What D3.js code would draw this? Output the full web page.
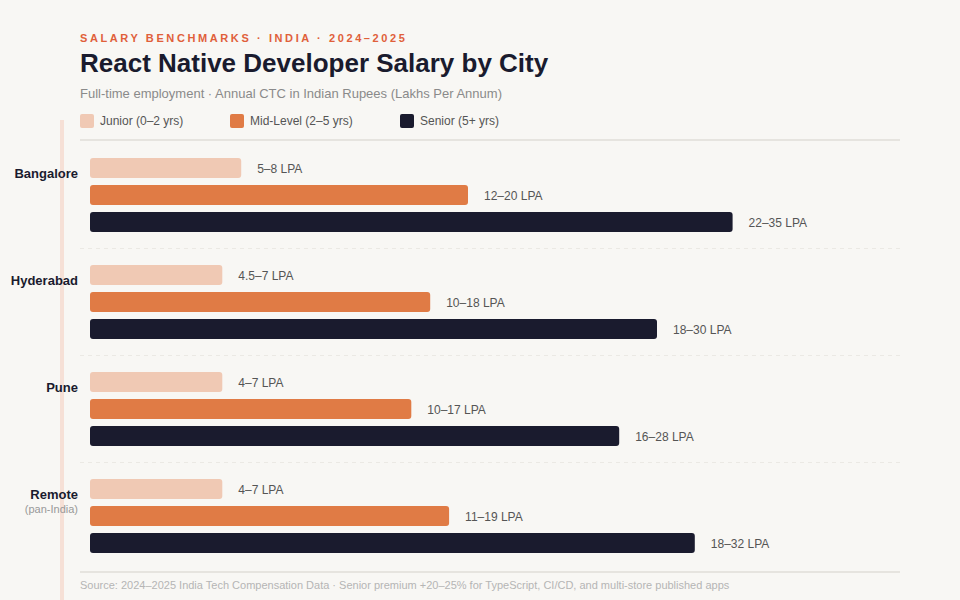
<!DOCTYPE html>
<html>
<head>
<meta charset="utf-8">
<script src="https://cdnjs.cloudflare.com/ajax/libs/d3/7.8.5/d3.min.js"></script>
<style>
  body { margin: 0; background: #f8f7f4; }
  svg { font-family: "Liberation Sans", Arial, sans-serif; display: block; }
</style>
</head>
<body>
<div id="chart"></div>
<script>
// data
var cities = ["Bangalore", "Hyderabad", "Pune", "Remote"];
var citySub = ["", "", "", "(pan-India)"];
var levels = ["Junior (0–2 yrs)", "Mid-Level (2–5 yrs)", "Senior (5+ yrs)"];
var juniorValues = [8, 7, 7, 7];
var midValues = [20, 18, 17, 19];
var seniorValues = [34, 30, 28, 32];
var juniorLabels = ["5–8 LPA", "4.5–7 LPA", "4–7 LPA", "4–7 LPA"];
var midLabels = ["12–20 LPA", "10–18 LPA", "10–17 LPA", "11–19 LPA"];
var seniorLabels = ["22–35 LPA", "18–30 LPA", "16–28 LPA", "18–32 LPA"];

var colors = ["#f0c9b4", "#e07b45", "#1a1b2e"];
var W = 960, H = 600;

var svg = d3.select("#chart").append("svg")
  .attr("width", W).attr("height", H);

svg.append("rect").attr("width", W).attr("height", H).attr("fill", "#f8f7f4");

// pale accent rule on the left
svg.append("rect")
  .attr("x", 60).attr("y", 120).attr("width", 4).attr("height", H - 120)
  .attr("fill", "#f6e0d6");

// header
svg.append("text")
  .attr("x", 80).attr("y", 42)
  .style("font-size", "11px").style("font-weight", "bold")
  .style("letter-spacing", "2.6px")
  .attr("fill", "#e0603a")
  .text("SALARY BENCHMARKS · INDIA · 2024–2025");

svg.append("text")
  .attr("x", 80).attr("y", 72)
  .style("font-size", "26px").style("font-weight", "bold")
  .attr("fill", "#1a1b2e")
  .text("React Native Developer Salary by City");

svg.append("text")
  .attr("x", 80).attr("y", 98)
  .style("font-size", "13px")
  .attr("fill", "#8a8a8a")
  .text("Full-time employment · Annual CTC in Indian Rupees (Lakhs Per Annum)");

// legend
var legendX = [80, 230, 400];
var legend = svg.selectAll(".legend").data(levels).enter().append("g")
  .attr("transform", function (d, i) { return "translate(" + legendX[i] + ",114)"; });
legend.append("rect").attr("width", 14).attr("height", 14).attr("rx", 2)
  .attr("fill", function (d, i) { return colors[i]; });
legend.append("text").attr("x", 20).attr("y", 11)
  .style("font-size", "12px").attr("fill", "#555")
  .text(function (d) { return d; });

// top & bottom rules
svg.append("line").attr("x1", 80).attr("x2", 900).attr("y1", 140).attr("y2", 140)
  .attr("stroke", "#e6e4df").attr("stroke-width", 2);
svg.append("line").attr("x1", 80).attr("x2", 900).attr("y1", 572).attr("y2", 572)
  .attr("stroke", "#e6e4df").attr("stroke-width", 2);

// scales
var x = d3.scaleLinear().domain([0, 40]).range([90, 846]);
var yCity = d3.scaleBand().domain(cities).range([148, 576]);
// three 20px bars on a 27px step
var yLevel = d3.scaleBand().domain([0, 1, 2]).range([10, 84]).paddingInner(7 / 27).paddingOuter(0);

var rows = cities.map(function (c, i) {
  return {
    city: c, sub: citySub[i], i: i,
    bars: [
      { v: juniorValues[i], label: juniorLabels[i], k: 0 },
      { v: midValues[i], label: midLabels[i], k: 1 },
      { v: seniorValues[i], label: seniorLabels[i], k: 2 }
    ]
  };
});

var groups = svg.selectAll(".city").data(rows).enter().append("g")
  .attr("transform", function (d) { return "translate(0," + yCity(d.city) + ")"; });

// dashed separators between cities
groups.filter(function (d) { return d.i > 0; }).append("line")
  .attr("x1", 80).attr("x2", 900).attr("y1", -6.5).attr("y2", -6.5)
  .attr("stroke", "#ebe9e4").attr("stroke-dasharray", "4,4");

groups.append("text")
  .attr("x", 78).attr("y", 30)
  .attr("text-anchor", "end")
  .style("font-size", "13px").style("font-weight", "bold")
  .attr("fill", "#1a1b2e")
  .text(function (d) { return d.city; });

groups.filter(function (d) { return d.sub; }).append("text")
  .attr("x", 78).attr("y", 44)
  .attr("text-anchor", "end")
  .style("font-size", "11px").attr("fill", "#999")
  .text(function (d) { return d.sub; });

var bars = groups.selectAll(".bar").data(function (d) { return d.bars; }).enter();

bars.append("rect")
  .attr("x", x(0))
  .attr("y", function (d) { return yLevel(d.k); })
  .attr("width", function (d) { return x(d.v) - x(0); })
  .attr("height", yLevel.bandwidth())
  .attr("rx", 3)
  .attr("fill", function (d) { return colors[d.k]; });

bars.append("text")
  .attr("x", function (d) { return x(d.v) + 16; })
  .attr("y", function (d) { return yLevel(d.k) + yLevel.bandwidth() / 2 + 5; })
  .style("font-size", "12px").attr("fill", "#555")
  .text(function (d) { return d.label; });

// footer
svg.append("text")
  .attr("x", 80).attr("y", 589)
  .style("font-size", "11px").attr("fill", "#b5b5b5")
  .text("Source: 2024–2025 India Tech Compensation Data · Senior premium +20–25% for TypeScript, CI/CD, and multi-store published apps");
</script>
</body>
</html>
